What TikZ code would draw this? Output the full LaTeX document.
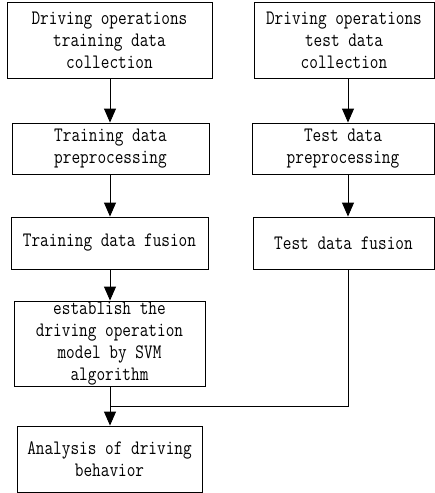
\documentclass[tikz,border=0pt]{standalone}
\usepackage{fontspec}
\setmonofont[FakeStretch=0.82]{Latin Modern Mono}
\usetikzlibrary{arrows.meta,calc}
\begin{document}
\begin{tikzpicture}[x=1pt,y=-1pt,
  box/.style={draw,line width=0.9pt,inner sep=0pt,align=center,
    font=\ttfamily\fontsize{20.5}{22}\selectfont},
  arr/.style={line width=0.9pt,-{Triangle[length=14pt,width=12pt]}},
  ln/.style={line width=0.9pt}]
\useasboundingbox (0,0) rectangle (435,493);
\node[box,minimum width=205,minimum height=76] (A) at (109.5,40) {Driving operations\\training data\\collection};
\node[box,minimum width=197,minimum height=51] (B) at (110.5,148.5) {Training data\\preprocessing};
\node[box,minimum width=197,minimum height=52] (C) at (109.5,243) {Training data fusion};
\node[box,minimum width=191,minimum height=85] (D) at (109.5,343.5) {establish the\\driving operation\\model by SVM\\algorithm};
\node[box,minimum width=185,minimum height=66] (E) at (109.5,459) {Analysis of driving\\behavior};
\node[box,minimum width=180,minimum height=76] (F) at (344,40) {Driving operations\\test data\\collection};
\node[box,minimum width=182,minimum height=51] (G) at (343,148.5) {Test data\\preprocessing};
\node[box,minimum width=181,minimum height=52] (H) at (343.5,243) {Test data fusion};
\coordinate (L) at (110,0);
\coordinate (R) at (348,0);
\coordinate (J) at (110,406);
\draw[arr] (A.south -| L) -- (B.north -| L);
\draw[arr] (B.south -| L) -- (C.north -| L);
\draw[arr] (C.south -| L) -- (D.north -| L);
\draw[arr] (D.south -| L) -- (E.north -| L);
\draw[arr] (F.south -| R) -- (G.north -| R);
\draw[arr] (G.south -| R) -- (H.north -| R);
\draw[ln] (H.south -| R) |- (J);
\end{tikzpicture}
\end{document}
